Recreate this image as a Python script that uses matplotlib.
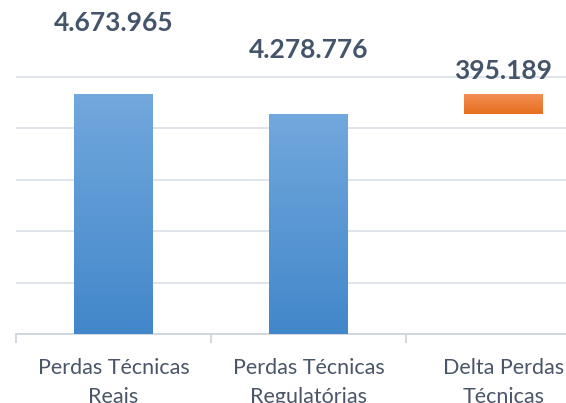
import matplotlib
matplotlib.use("Agg")
import matplotlib.pyplot as plt
import numpy as np
from matplotlib.colors import LinearSegmentedColormap

categories = ["Perdas Técnicas\nReais", "Perdas Técnicas\nRegulatórias", "Delta Perdas\nTécnicas"]
values = [4673965, 4278776, 395189]
labels = ["4.673.965", "4.278.776", "395.189"]

W, H = 566, 403
fig = plt.figure(figsize=(W / 100, H / 100), dpi=100)
ax = fig.add_axes([16 / W, 69 / H, 585 / W, 308.4 / H])

x = np.arange(len(categories))
bottoms = [0, 0, values[1]]
bar_w = 0.405
bars = ax.bar(x, values, bottom=bottoms, width=bar_w, color="none", edgecolor="none", zorder=3)

blue = LinearSegmentedColormap.from_list("b", ["#4287CA", "#72A8DD"])
orange = LinearSegmentedColormap.from_list("o", ["#E76E1C", "#F29058"])
grad = np.linspace(0, 1, 256).reshape(-1, 1)
for i, p in enumerate(bars):
    cmap = orange if i == 2 else blue
    x0, y0, w, h = p.get_x(), p.get_y(), p.get_width(), p.get_height()
    im = ax.imshow(grad, extent=[x0, x0 + w, y0, y0 + h], origin="lower", cmap=cmap,
                   aspect="auto", zorder=3)
    im.set_clip_path(p)

ax.set_xlim(-0.5, 2.5)
ax.set_ylim(0, 6e6)
ax.set_yticks(np.arange(0, 5e6 + 1, 1e6))
ax.yaxis.grid(True, color="#DCE1E8", linewidth=1.3, zorder=0)
ax.tick_params(axis="y", left=False, labelleft=False)
for s in ["top", "right", "left"]:
    ax.spines[s].set_visible(False)
ax.spines["bottom"].set_color("#D0D5DC")
ax.spines["bottom"].set_linewidth(1.3)

ax.set_xticks(x)
ax.set_xticklabels(categories, fontsize=15.5, color="#4A5568", family="Lato", linespacing=1.6)
ax.set_xticks([-0.5, 0.5, 1.5, 2.5], minor=True)
ax.tick_params(axis="x", which="major", length=0, pad=17)
ax.tick_params(axis="x", which="minor", length=6.5, color="#D0D5DC", width=1.3)

offsets = [71, 64, 23]
for i, p in enumerate(bars):
    top = p.get_y() + p.get_height()
    ax.annotate(labels[i], (p.get_x() + p.get_width() / 2, top), xytext=(0, offsets[i]),
                textcoords="offset pixels", ha="center", va="center", fontsize=19,
                fontweight="bold", color="#44546A", family="Lato", annotation_clip=False)

fig.savefig("out.png", dpi=100)
